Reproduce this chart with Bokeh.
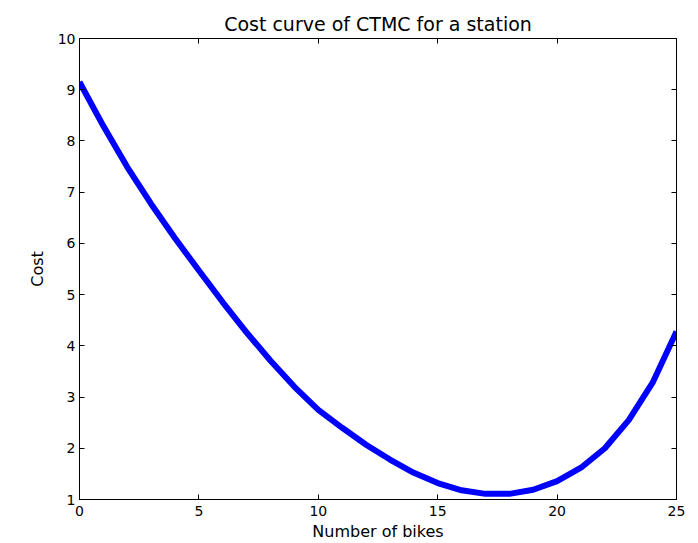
from bokeh.plotting import figure
from bokeh.models import Range1d, LinearAxis, FixedTicker, CustomJSTickFormatter
from bokeh.embed import file_html
from bokeh.resources import INLINE

bikes = list(range(0, 26))
cost = [9.15, 8.29, 7.49, 6.77, 6.10, 5.47, 4.85, 4.26, 3.71, 3.20,
        2.75, 2.40, 2.07, 1.78, 1.52, 1.32, 1.18, 1.11, 1.11, 1.19,
        1.36, 1.62, 2.00, 2.55, 3.28, 4.28]
x_ticks = [0, 5, 10, 15, 20, 25]
y_ticks = [1, 2, 3, 4, 5, 6, 7, 8, 9, 10]

FONT = "DejaVu Sans"

p = figure(width=698, height=543, output_backend="svg", toolbar_location=None,
           x_range=Range1d(0, 25), y_range=Range1d(1, 10),
           min_border_left=79, min_border_right=22, min_border_top=38, min_border_bottom=44,
           title="Cost curve of CTMC for a station")
p.title.align = "center"
p.title.text_font = FONT
p.title.text_font_size = "19px"
p.title.text_font_style = "normal"
p.title.text_color = "black"
p.title.offset = 0
p.title.standoff = 8

p.line(bikes, cost, line_color="#0000ff", line_width=6)

p.xgrid.visible = False
p.ygrid.visible = False
p.outline_line_color = "black"
p.outline_line_width = 1
p.background_fill_color = "white"
p.border_fill_color = "white"

for ax, ticks in ((p.xaxis[0], x_ticks), (p.yaxis[0], y_ticks)):
    ax.ticker = FixedTicker(ticks=ticks)
    ax.minor_tick_line_color = None
    ax.major_tick_in = 5
    ax.major_tick_out = 0
    ax.major_label_text_font = FONT
    ax.major_label_text_font_size = "14px"
    ax.major_label_text_color = "black"
    ax.axis_label_text_font = FONT
    ax.axis_label_text_font_size = "16px"
    ax.axis_label_text_font_style = "normal"
    ax.axis_label_text_color = "black"
    ax.axis_line_color = "black"

p.xaxis.axis_label = "Number of bikes"
p.yaxis.axis_label = "Cost"
p.xaxis.major_label_standoff = 6
p.yaxis.major_label_standoff = 4
p.xaxis.axis_label_standoff = 3
p.yaxis.axis_label_standoff = 8

blank = CustomJSTickFormatter(code="return ''")
top = LinearAxis(ticker=FixedTicker(ticks=x_ticks), formatter=blank,
                 minor_tick_line_color=None, major_tick_in=5, major_tick_out=0,
                 major_label_standoff=0)
right = LinearAxis(ticker=FixedTicker(ticks=y_ticks), formatter=blank,
                   minor_tick_line_color=None, major_tick_in=5, major_tick_out=0,
                   major_label_standoff=0)
p.add_layout(top, "above")
p.add_layout(right, "right")

open("out.html", "w").write(file_html(p, INLINE))
